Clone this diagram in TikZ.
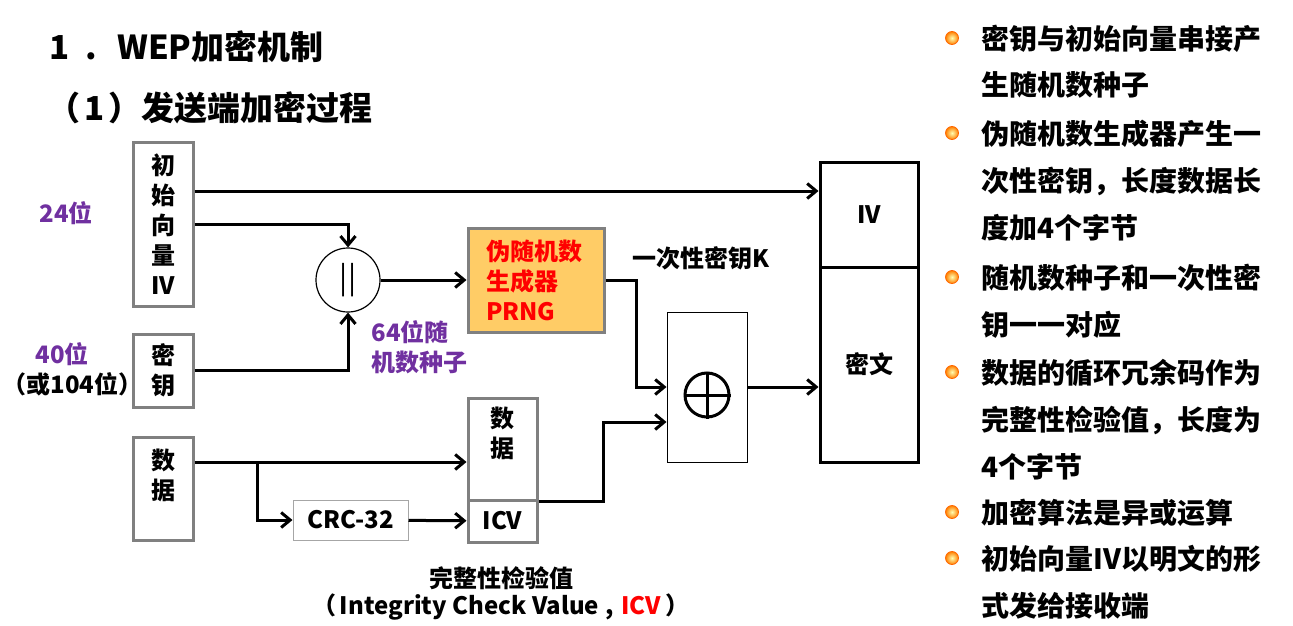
\documentclass[tikz,border=0pt]{standalone}
\usepackage{fontspec}
\setmainfont{Noto Sans CJK SC}
\usetikzlibrary{arrows.meta,positioning}
\definecolor{seedpurple}{HTML}{7030A0}
\definecolor{prngfill}{HTML}{FFCC66}
\definecolor{boxgray}{HTML}{808080}
\tikzset{
        txt/.style={align=center,inner sep=0pt,font=\bfseries\fontsize{24}{30}\selectfont},
        % Titles
        title_txt/.style={txt, font=\bfseries\fontsize{33}{40}\selectfont},
        % Gray input boxes
        box_gray/.style={txt, rectangle, draw=boxgray, line width=3pt, minimum width=60pt},
        % Concatenation circle
        concat_circ/.style={circle, draw=black, line width=1.2pt, minimum size=64pt, inner sep=0pt, font=\fontsize{30}{30}\selectfont},
        % Generator box
        box_prng/.style={txt, rectangle, red, draw=boxgray, fill=prngfill, line width=3pt, align=left, text width=100pt, minimum width=136pt, minimum height=104pt},
        % XOR box and mark
        box_xor/.style={rectangle, draw=black, line width=1pt, minimum width=80pt, minimum height=150pt},
        xor_mark/.style={circle, draw=black, line width=3pt, minimum size=44pt, inner sep=0pt},
        % Output frame
        box_out/.style={txt, rectangle, draw=black, line width=3pt, minimum width=98pt},
        % CRC box
        box_crc/.style={txt, rectangle, draw=boxgray!70, line width=1pt, minimum width=115pt, minimum height=40pt},
        % Bullet list
        bullet_dot/.style={circle, draw=orange!80!red, line width=0.8pt, inner color=yellow!30!white, outer color=orange, minimum size=13pt, inner sep=0pt},
        bullet_txt/.style={anchor=base west, inner sep=0pt, align=left, text width=300pt, font=\bfseries\fontsize{28}{47}\selectfont}
}
\begin{document}
\begin{tikzpicture}[
            x=1pt, y=-1pt,
            line width=3pt,
            >={Straight Barb[length=9pt,width=15pt]}
        ]
            \useasboundingbox (0,0) rectangle (1293,626);
            % titles
            \node[title_txt, anchor=west] (title1) at (48,47) {1\hspace{16pt}.\hspace{20pt}WEP加密机制};
            \node[title_txt, anchor=west] (title2) at (46,108) {（\hspace{4pt}1\hspace{4pt}）发送端加密过程};
            % inputs
            \node[box_gray, minimum height=164pt] (iv_box) at (163,224) {初\\始\\向\\量\\IV};
            \node[box_gray, minimum height=73pt] (key_box) at (163,370.5) {密\\钥};
            \node[box_gray, minimum height=103pt] (data_box) at (163,488.5) {};
            \node[txt] (data_txt) at ([yshift=13pt]data_box.center) {数\\据};
            \node[txt, seedpurple] (iv_len) at (66,213) {24位};
            \node[txt, seedpurple] (key_len) at (62,354) {40位};
            \node[txt, anchor=west] (key_len_alt) at (1,384) {（或104位）};
            % seed and generator
            \node[concat_circ] (concat) at (348,280) {||};
            \node[box_prng] (prng) at (536,280) {伪随机数\\生成器\\PRNG};
            \node[txt, seedpurple, anchor=west, align=left] (seed) at (370,347) {64位随\\机数种子};
            \node[txt] (k_label) at (701,258) {一次性密钥K};
            % xor
            \node[box_xor] (xor_box) at (707,387) {};
            \node[xor_mark] (xor_sym) at (707,395) {};
            \draw[line width=3pt] (xor_sym.north) -- (xor_sym.south) (xor_sym.west) -- (xor_sym.east);
            % output frame
            \node[box_out, minimum height=105pt] (out_iv) at (869,214.5) {IV};
            \node[box_out, minimum height=195pt] (out_ct) at (869,364.5) {密文};
            % data with icv
            \node[box_gray, minimum width=69pt, minimum height=102pt] (data_part) at (502.5,449) {};
            \node[txt] (data_part_txt) at ([yshift=16pt]data_part.center) {数\\据};
            \node[box_gray, minimum width=69pt, minimum height=42pt] (icv_part) at (502.5,521) {ICV};
            \node[box_crc] (crc) at (350.5,520) {CRC-32};
            \node[txt] (icv_note) at (501,578) {完整性检验值};
            \node[txt] (icv_full) at (501,607) {（\hspace{3pt}Integrity Check Value\hspace{6pt},\hspace{8pt}\textcolor{red}{ICV}\hspace{4pt}）};
            % connectors
            \draw[->] ([yshift=33pt]iv_box.east) -- ([yshift=33pt]iv_box.east -| out_iv.west);
            \draw[->] (iv_box.east) -| (concat.north);
            \draw[->] (key_box.east) -| (concat.south);
            \draw[->] (concat) -- (prng);
            \draw[->] (prng.east) -- ++(31,0) |- (xor_box.west);
            \draw[->] (xor_box.east) -- (xor_box.east -| out_ct.west);
            \draw[->] ([yshift=26.5pt]data_box.east) -- ([yshift=26.5pt]data_box.east -| data_part.west);
            \coordinate (data_split) at (257,462);
            \draw[->] (data_split) |- (crc.west);
            \draw[->] (crc) -- (icv_part);
            \draw[->] (data_part.south east) -- ++(65,0) |- ([yshift=-35pt]xor_box.west);
            % notes
            \foreach \y in {38,133,277,372,512,558}
                \node[bullet_dot] at (952,\y) {};
            \node[bullet_txt] (pt1) at (980,49) {密钥与初始向量串接产\\生随机数种子};
            \node[bullet_txt] (pt2) at (980,144) {伪随机数生成器产生一\\次性密钥，长度数据长\\度加4个字节};
            \node[bullet_txt] (pt3) at (980,288) {随机数种子和一次性密\\钥一一对应};
            \node[bullet_txt] (pt4) at (980,383) {数据的循环冗余码作为\\完整性检验值，长度为\\4个字节};
            \node[bullet_txt] (pt5) at (980,523) {加密算法是异或运算};
            \node[bullet_txt] (pt6) at (980,569) {初始向量IV以明文的形\\式发给接收端};
        \end{tikzpicture}
\end{document}
